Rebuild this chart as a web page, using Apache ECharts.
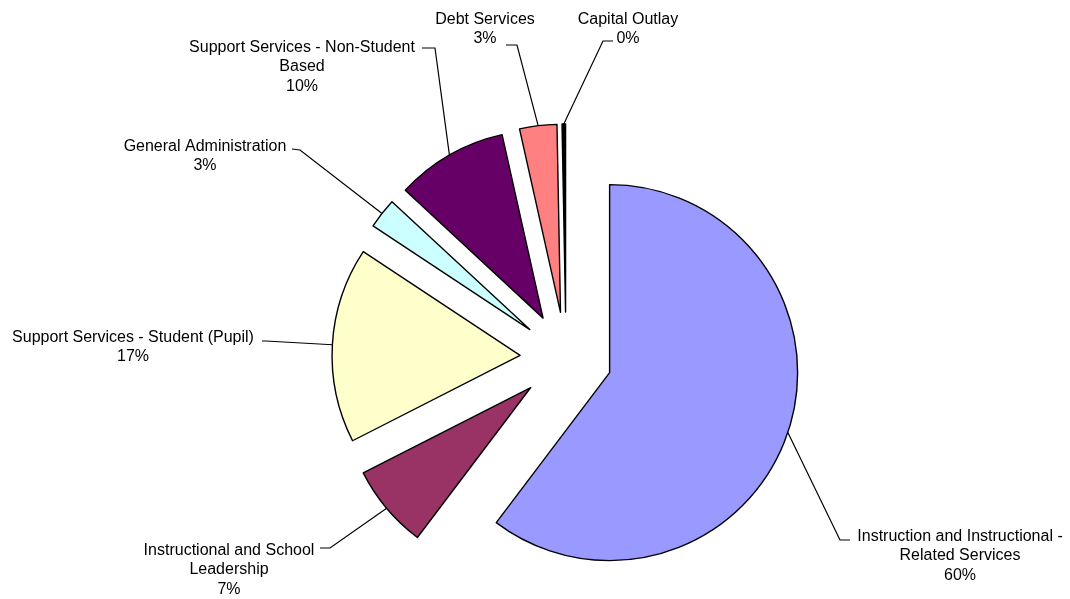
<!DOCTYPE html>
<html>
<head>
<meta charset="utf-8">
<script src="https://cdn.jsdelivr.net/npm/echarts@6/dist/echarts.min.js"></script>
<style>
html,body{margin:0;padding:0;background:#fff;}
#main{width:1070px;height:599px;}
</style>
</head>
<body>
<div id="main"></div>
<script>
// ---- data ----
var categories = [
  'Instruction and Instructional -\nRelated Services',
  'Instructional and School\nLeadership',
  'Support Services - Student (Pupil)',
  'General Administration',
  'Support Services - Non-Student\nBased',
  'Debt Services',
  'Capital Outlay'
];
var values = [60.3, 7.2, 16.8, 2.6, 9.6, 3.2, 0.3];

// ---- style / layout ----
var colors = ['#9999FF', '#993366', '#FFFFCC', '#CCFFFF', '#660066', '#FF8080', '#000000'];
var EXPLODE = 46;
// label centre (x, y), leader bend and end points
var labelPlace = [
  {x: 960, y: 556, bend: [840, 540], end: [850, 540]},
  {x: 229, y: 570, bend: [330, 548], end: [320, 548]},
  {x: 133, y: 347, bend: [266, 341], end: [262, 341]},
  {x: 205, y: 156, bend: [300, 150], end: [292, 149]},
  {x: 302, y: 67,  bend: [435, 48],  end: [422, 48]},
  {x: 485, y: 29,  bend: [517, 45],  end: [506, 45]},
  {x: 628, y: 29,  bend: [603, 41],  end: [613, 41]}
];

// explode offset of each slice (direction of its bisector)
var total = values.reduce(function (a, b) { return a + b; }, 0);
var offsets = [];
(function () {
  var acc = 0;
  for (var i = 0; i < values.length; i++) {
    var mid = (acc + values[i] / 2) / total * Math.PI * 2;
    offsets.push([EXPLODE * Math.sin(mid), -EXPLODE * Math.cos(mid)]);
    acc += values[i];
  }
})();

var chart = echarts.init(document.getElementById('main'), null, {renderer: 'canvas'});
var seriesData = categories.map(function (c, i) {
  return {
    name: c,
    value: values[i],
    selected: true,
    itemStyle: {color: colors[i]}
  };
});

chart.setOption({
  animation: false,
  series: [{
    type: 'pie',
    center: [566, 358],
    radius: 188,
    startAngle: 90,
    clockwise: true,
    selectedMode: 'multiple',
    selectedOffset: EXPLODE,
    avoidLabelOverlap: false,
    emphasis: {disabled: true},
    itemStyle: {borderColor: '#000', borderWidth: 1.4},
    label: {
      show: true,
      position: 'outside',
      color: '#000',
      fontFamily: 'Liberation Sans, Arial, sans-serif',
      fontSize: 16,
      lineHeight: 19.5,
      formatter: function (p) {
        return p.name + '\n' + Math.round(p.percent) + '%';
      }
    },
    labelLine: {
      show: true,
      lineStyle: {color: '#000', width: 1.2}
    },
    labelLayout: function (p) {
      var i = p.dataIndex;
      var lp = labelPlace[i];
      var o = offsets[i];
      var r = p.labelRect;
      var ax = p.align === 'left' ? r.x : (p.align === 'right' ? r.x + r.width : r.x + r.width / 2);
      var ay = p.verticalAlign === 'top' ? r.y : (p.verticalAlign === 'bottom' ? r.y + r.height : r.y + r.height / 2);
      var start = p.labelLinePoints[0];
      return {
        dx: lp.x - o[0] - ax,
        dy: lp.y - o[1] - ay,
        align: 'center',
        verticalAlign: 'middle',
        labelLinePoints: [
          start,
          [lp.bend[0] - o[0], lp.bend[1] - o[1]],
          [lp.end[0] - o[0], lp.end[1] - o[1]]
        ]
      };
    },
    data: seriesData
  }]
});
</script>
</body>
</html>
